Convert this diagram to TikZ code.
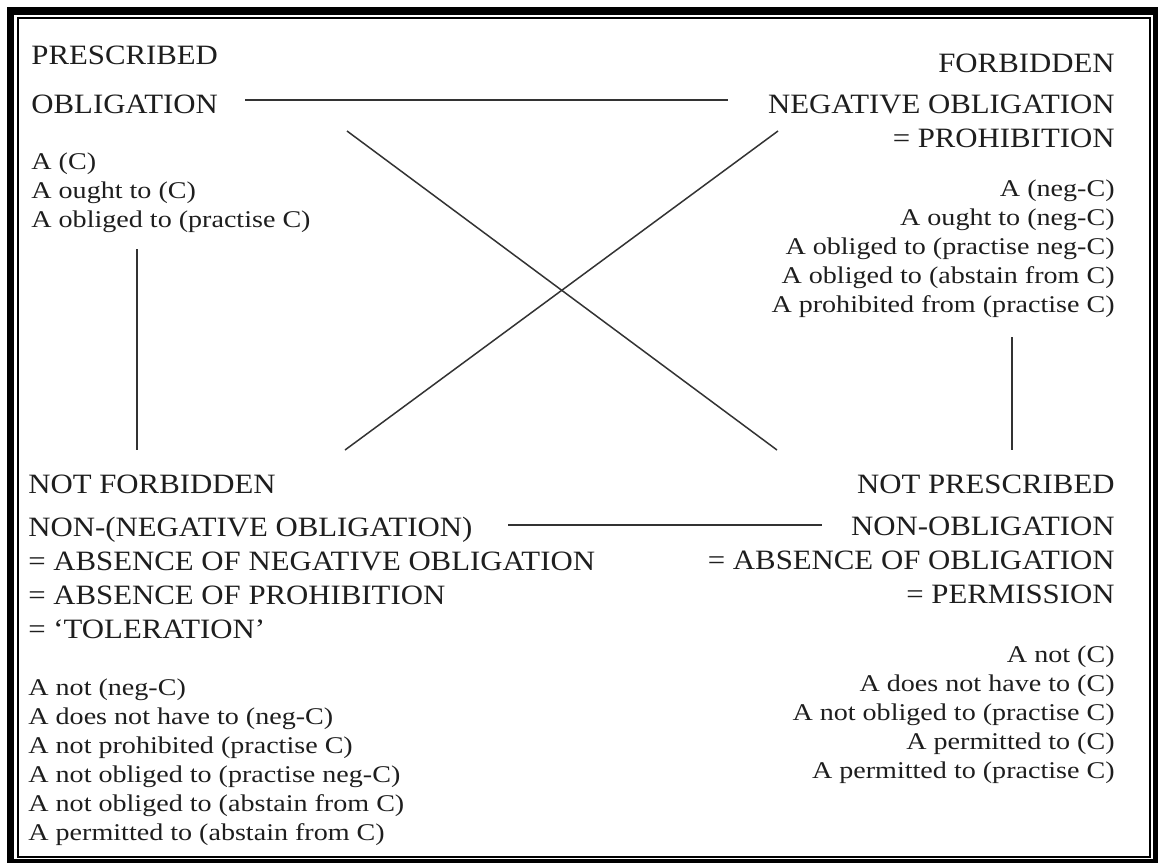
\documentclass[tikz,border=0pt]{standalone}
\usepackage{fontspec}
\setmainfont{Liberation Serif}
\newfontfamily\headfont{Liberation Serif}[FakeStretch=1.1, Ligatures=TeX]
\newfontfamily\listfont{Liberation Serif}[FakeStretch=1.17, Ligatures=TeX]
\usetikzlibrary{positioning}
\definecolor{ink}{HTML}{1E1E1E}
\definecolor{lineink}{HTML}{333333}
\tikzset{
  heading/.style={font=\headfont\fontsize{14}{17}\selectfont, inner sep=0, text=ink},
  listing/.style={font=\listfont\fontsize{12}{14.5}\selectfont, inner sep=0, text=ink},
  link/.style={line width=0.75pt, draw=lineink},
}

\begin{document}
\begin{tikzpicture}[x=0.5pt, y=-0.5pt]

\useasboundingbox (0,0) rectangle (1158,863);

%% Frame
\fill[black] (7,7) rectangle (1158,863);
\fill[white] (14,15) rectangle (1153,859);
\draw[line width=1pt] (18,18) rectangle (1150,856.5);

%% Prescribed (base = last line)
\node[heading, anchor=base west] (prescribed) at (31,64) {PRESCRIBED};
\node[heading, anchor=base west] (obligation) at (31,113) {OBLIGATION};
\node[listing, anchor=base west, align=left] (obligation list) at (31,227)
    {A (C)\\ A ought to (C)\\ A obliged to (practise C)};

%% Forbidden
\node[heading, anchor=base east] (forbidden) at (1115,72) {FORBIDDEN};
\node[heading, anchor=base east, align=right] (negative obligation) at (1115,147)
    {NEGATIVE OBLIGATION\\ = PROHIBITION};
\node[listing, anchor=base east, align=right] (prohibition list) at (1115,312)
    {A (neg-C)\\ A ought to (neg-C)\\ A obliged to (practise neg-C)\\
     A obliged to (abstain from C)\\ A prohibited from (practise C)};

%% Not forbidden
\node[heading, anchor=base west] (not forbidden) at (28,493) {NOT FORBIDDEN};
\node[heading, anchor=base west, align=left] (toleration) at (28,638)
    {NON-(NEGATIVE OBLIGATION)\\ = ABSENCE OF NEGATIVE OBLIGATION\\
     = ABSENCE OF PROHIBITION\\ = ‘TOLERATION’};
\node[listing, anchor=base west, align=left] (toleration list) at (28,840)
    {A not (neg-C)\\ A does not have to (neg-C)\\ A not prohibited (practise C)\\
     A not obliged to (practise neg-C)\\ A not obliged to (abstain from C)\\
     A permitted to (abstain from C)};

%% Not prescribed
\node[heading, anchor=base east] (not prescribed) at (1115,493) {NOT PRESCRIBED};
\node[heading, anchor=base east, align=right] (permission) at (1115,603)
    {NON-OBLIGATION\\ = ABSENCE OF OBLIGATION\\ = PERMISSION};
\node[listing, anchor=base east, align=right] (permission list) at (1115,778)
    {A not (C)\\ A does not have to (C)\\ A not obliged to (practise C)\\
     A permitted to (C)\\ A permitted to (practise C)};

%% Line ends
\coordinate (ob e) at (245,100);
\coordinate (neg w) at (728,100);
\coordinate (ob se) at (347,131);
\coordinate (neg sw) at (778,131);
\coordinate (ob s) at (137,249);
\coordinate (neg s) at (1012,337);
\coordinate (tol n) at (137,450);
\coordinate (tol ne) at (345,450);
\coordinate (perm nw) at (777,450);
\coordinate (perm n) at (1012,450);
\coordinate (tol e) at (508,525);
\coordinate (perm w) at (822,525);

\draw[link] (ob e) -- (neg w);
\draw[link] (tol e) -- (perm w);
\draw[link] (ob s) -- (tol n);
\draw[link] (neg s) -- (perm n);
\draw[link] (ob se) -- (perm nw);
\draw[link] (neg sw) -- (tol ne);

\end{tikzpicture}
\end{document}
